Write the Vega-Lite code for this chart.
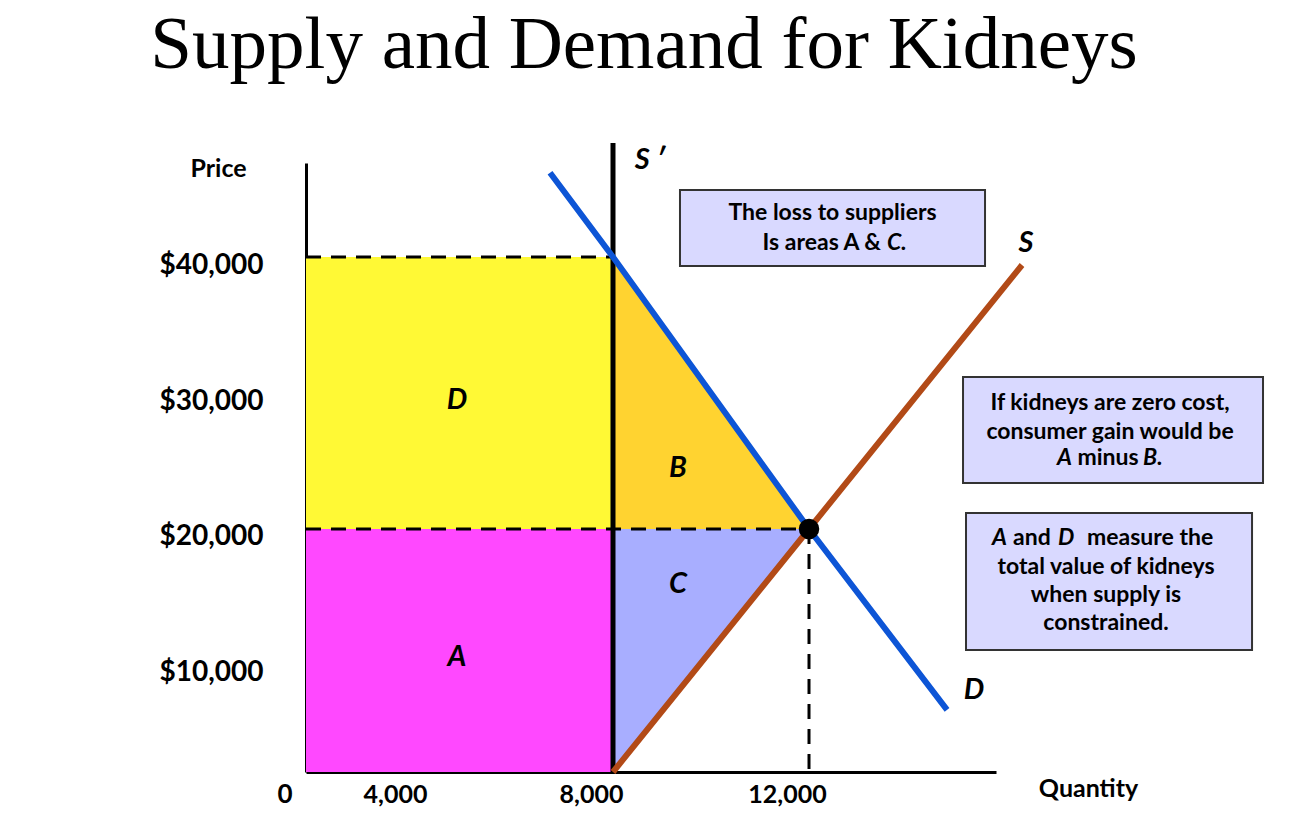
{
  "$schema": "https://vega.github.io/schema/vega-lite/v6.json",
  "width": 690,
  "height": 609,
  "autosize": {"type": "none"},
  "padding": {"left": 306, "top": 163, "right": 304, "bottom": 48},
  "background": "white",
  "config": {"view": {"stroke": null}, "font": "Lato"},
  "title": {
    "text": "Supply and Demand for Kidneys",
    "font": "Liberation Serif",
    "fontSize": 75,
    "fontWeight": "normal",
    "color": "black",
    "anchor": "middle",
    "frame": "group",
    "baseline": "alphabetic",
    "offset": -2,
    "dx": -7
  },
  "datasets": {
    "rects": [
      {"area": "A", "q": 1735, "q2": 8000, "p": 2132, "p2": 20000},
      {"area": "D", "q": 1735, "q2": 8000, "p": 20000, "p2": 40000}
    ],
    "triB": [
      {"q": 8000, "p": 40000, "p2": 20000},
      {"q": 12000, "p": 20000, "p2": 20000}
    ],
    "triC": [
      {"q": 8000, "p": 20000, "p2": 2132},
      {"q": 12000, "p": 20000, "p2": 20000}
    ],
    "dashes": [
      {"q": 1735, "q2": 8000, "p": 40000, "p2": 40000},
      {"q": 1735, "q2": 12000, "p": 20000, "p2": 20000},
      {"q": 12000, "q2": 12000, "p": 20000, "p2": 2132}
    ],
    "sprime": [{"q": 8000, "q2": 8000, "p": 2132, "p2": 48382}],
    "demand": [
      {"q": 6715, "p": 46200},
      {"q": 8000, "p": 40000},
      {"q": 12000, "p": 20000},
      {"q": 14817, "p": 6700}
    ],
    "supply": [
      {"q": 8000, "p": 2132},
      {"q": 12000, "p": 20000},
      {"q": 16347, "p": 39412}
    ],
    "eq": [{"q": 12000, "p": 20000}],
    "boxes": [
      {"q": 9367, "q2": 15592, "p": 44926, "p2": 39338},
      {"q": 15143, "q2": 21265, "p": 31176, "p2": 23382},
      {"q": 15204, "q2": 21041, "p": 21176, "p2": 11103}
    ],
    "notes": [
      {"t": "The loss to suppliers", "q": 12480, "p": 43235, "a": "center", "st": "n"},
      {"t": "Is areas A &", "q": 13469, "p": 41029, "a": "right", "st": "n"},
      {"t": "C.", "q": 13592, "p": 41029, "a": "left", "st": "i"},
      {"t": "If kidneys are zero cost,", "q": 18143, "p": 29265, "a": "center", "st": "n"},
      {"t": "consumer gain would be", "q": 18143, "p": 27132, "a": "center", "st": "n"},
      {"t": "A", "q": 17367, "p": 25221, "a": "right", "st": "i"},
      {"t": "minus", "q": 18102, "p": 25221, "a": "center", "st": "n"},
      {"t": "B.", "q": 18816, "p": 25221, "a": "left", "st": "i"},
      {"t": "A", "q": 15735, "p": 19338, "a": "left", "st": "i"},
      {"t": "and", "q": 16163, "p": 19338, "a": "left", "st": "n"},
      {"t": "D", "q": 17082, "p": 19338, "a": "left", "st": "i"},
      {"t": "measure the", "q": 17673, "p": 19338, "a": "left", "st": "n"},
      {"t": "total value of kidneys", "q": 18061, "p": 17206, "a": "center", "st": "n"},
      {"t": "when supply is", "q": 18061, "p": 15147, "a": "center", "st": "n"},
      {"t": "constrained.", "q": 18061, "p": 13088, "a": "center", "st": "n"}
    ],
    "lbl": [
      {"t": "D", "q": 4816, "p": 29485},
      {"t": "A", "q": 4816, "p": 10588},
      {"t": "B", "q": 9327, "p": 24485},
      {"t": "C", "q": 9327, "p": 15956},
      {"t": "S ′", "q": 8755, "p": 47132},
      {"t": "S", "q": 16429, "p": 41029},
      {"t": "D", "q": 15367, "p": 8162}
    ],
    "origin": [{"t": "0", "q": 1735, "p": 2132}]
  },
  "encoding": {
    "x": {
      "field": "q",
      "type": "quantitative",
      "scale": {"domain": [1735, 15816], "nice": false, "zero": false},
      "axis": {
        "title": "Quantity",
        "values": [4000, 8000, 12000],
        "labelExpr": "format(datum.value, ',')",
        "grid": false,
        "ticks": false,
        "tickSize": 0,
        "domainColor": "black",
        "domainWidth": 3,
        "labelFont": "Lato",
        "labelFontWeight": "bold",
        "labelFontSize": 25,
        "labelColor": "black",
        "labelPadding": 10,
        "labelOffset": -22,
        "labelFlush": false,
        "labelOverlap": false,
        "titleFont": "Lato",
        "titleFontWeight": "bold",
        "titleFontSize": 25,
        "titleColor": "black",
        "titleX": 782,
        "titleY": 16,
        "titleAlign": "center",
        "titleBaseline": "middle",
        "titleAngle": 0
      }
    },
    "y": {
      "field": "p",
      "type": "quantitative",
      "scale": {"domain": [2132, 46912], "nice": false, "zero": false},
      "axis": {
        "title": "Price",
        "values": [10000, 20000, 30000, 40000],
        "labelExpr": "'$' + format(datum.value, ',')",
        "grid": false,
        "ticks": false,
        "tickSize": 0,
        "domainColor": "black",
        "domainWidth": 3,
        "labelFont": "Lato",
        "labelFontWeight": "bold",
        "labelFontSize": 28,
        "labelColor": "black",
        "labelPadding": 43,
        "labelOffset": 8,
        "labelOverlap": false,
        "titleFont": "Lato",
        "titleFontWeight": "bold",
        "titleFontSize": 25,
        "titleColor": "black",
        "titleX": -88,
        "titleY": 5,
        "titleAlign": "center",
        "titleBaseline": "middle",
        "titleAngle": 0
      }
    }
  },
  "layer": [
    {
      "data": {"name": "rects"},
      "mark": {"type": "rect"},
      "encoding": {
        "x2": {"field": "q2"},
        "y2": {"field": "p2"},
        "color": {"field": "area", "type": "nominal", "scale": {"domain": ["A", "D"], "range": ["#FF48FF", "#FFF935"]}, "legend": null}
      }
    },
    {
      "data": {"name": "triB"},
      "mark": {"type": "area", "color": "#FFD330", "opacity": 1},
      "encoding": {"y2": {"field": "p2"}}
    },
    {
      "data": {"name": "triC"},
      "mark": {"type": "area", "color": "#A8AEFF", "opacity": 1},
      "encoding": {"y2": {"field": "p2"}}
    },
    {
      "data": {"name": "dashes"},
      "mark": {"type": "rule", "color": "black", "strokeWidth": 3, "strokeDash": [15, 10]},
      "encoding": {"x2": {"field": "q2"}, "y2": {"field": "p2"}}
    },
    {
      "data": {"name": "sprime"},
      "mark": {"type": "rule", "color": "black", "strokeWidth": 5},
      "encoding": {"x2": {"field": "q2"}, "y2": {"field": "p2"}}
    },
    {
      "data": {"name": "demand"},
      "mark": {"type": "line", "color": "#0D55D6", "strokeWidth": 6},
      "encoding": {}
    },
    {
      "data": {"name": "supply"},
      "mark": {"type": "line", "color": "#B24A17", "strokeWidth": 6},
      "encoding": {}
    },
    {
      "data": {"name": "eq"},
      "mark": {"type": "point", "filled": true, "color": "black", "size": 420, "opacity": 1},
      "encoding": {}
    },
    {
      "data": {"name": "boxes"},
      "mark": {"type": "rect", "fill": "#D9D9FF", "stroke": "#333333", "strokeWidth": 2},
      "encoding": {"x2": {"field": "q2"}, "y2": {"field": "p2"}}
    },
    {
      "data": {"name": "notes"},
      "transform": [{"filter": "datum.a == 'center' && datum.st == 'n'"}],
      "mark": {"type": "text", "font": "Lato", "fontWeight": "bold", "fontSize": 23, "color": "black", "align": "center", "baseline": "middle"},
      "encoding": {"text": {"field": "t"}}
    },
    {
      "data": {"name": "notes"},
      "transform": [{"filter": "datum.a == 'left' && datum.st == 'n'"}],
      "mark": {"type": "text", "font": "Lato", "fontWeight": "bold", "fontSize": 23, "color": "black", "align": "left", "baseline": "middle"},
      "encoding": {"text": {"field": "t"}}
    },
    {
      "data": {"name": "notes"},
      "transform": [{"filter": "datum.a == 'right' && datum.st == 'n'"}],
      "mark": {"type": "text", "font": "Lato", "fontWeight": "bold", "fontSize": 23, "color": "black", "align": "right", "baseline": "middle"},
      "encoding": {"text": {"field": "t"}}
    },
    {
      "data": {"name": "notes"},
      "transform": [{"filter": "datum.a == 'left' && datum.st == 'i'"}],
      "mark": {"type": "text", "font": "Lato", "fontWeight": "bold", "fontStyle": "italic", "fontSize": 23, "color": "black", "align": "left", "baseline": "middle"},
      "encoding": {"text": {"field": "t"}}
    },
    {
      "data": {"name": "notes"},
      "transform": [{"filter": "datum.a == 'right' && datum.st == 'i'"}],
      "mark": {"type": "text", "font": "Lato", "fontWeight": "bold", "fontStyle": "italic", "fontSize": 23, "color": "black", "align": "right", "baseline": "middle"},
      "encoding": {"text": {"field": "t"}}
    },
    {
      "data": {"name": "lbl"},
      "mark": {"type": "text", "font": "Lato", "fontWeight": "bold", "fontStyle": "italic", "fontSize": 29, "color": "black", "align": "center", "baseline": "middle"},
      "encoding": {"text": {"field": "t"}}
    },
    {
      "data": {"name": "origin"},
      "mark": {"type": "text", "font": "Lato", "fontWeight": "bold", "fontSize": 26, "color": "black", "align": "center", "baseline": "middle", "dx": -21, "dy": 23},
      "encoding": {"text": {"field": "t"}}
    }
  ]
}
